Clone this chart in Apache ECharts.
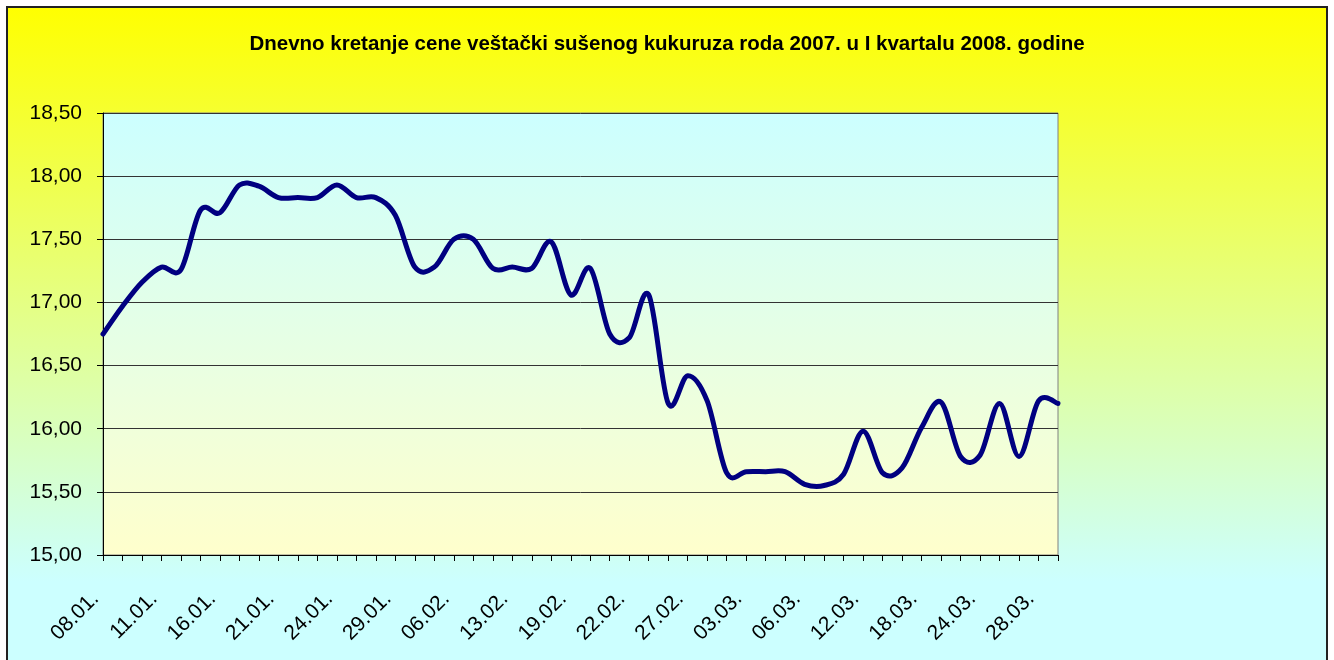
<!DOCTYPE html>
<html>
<head>
<meta charset="utf-8">
<title>Kukuruz 2008</title>
<script src="https://cdn.jsdelivr.net/npm/echarts@6/dist/echarts.min.js"></script>
<style>
    html, body { margin: 0; padding: 0; background: #ffffff; }
    #chart { width: 1334px; height: 660px; }
</style>
</head>
<body>
<div id="chart"></div>
<script>
// datumi trgovanja (prikazuje se svaki treci)
var dates = [
    '08.01.', '09.01.', '10.01.', '11.01.', '14.01.', '15.01.', '16.01.', '17.01.', '18.01.', '21.01.',
    '22.01.', '23.01.', '24.01.', '25.01.', '28.01.', '29.01.', '30.01.', '01.02.', '06.02.', '08.02.',
    '11.02.', '13.02.', '14.02.', '18.02.', '19.02.', '20.02.', '21.02.', '22.02.', '25.02.', '26.02.',
    '27.02.', '28.02.', '29.02.', '03.03.', '04.03.', '05.03.', '06.03.', '10.03.', '11.03.', '12.03.',
    '14.03.', '17.03.', '18.03.', '19.03.', '20.03.', '24.03.', '25.03.', '27.03.', '28.03.', '31.03.'
];

// cena (din/kg)
var prices = [
    16.75, 16.97, 17.16, 17.28, 17.26, 17.73, 17.71, 17.93, 17.92, 17.83,
    17.83, 17.83, 17.93, 17.83, 17.83, 17.69, 17.28, 17.28, 17.50, 17.50,
    17.27, 17.28, 17.27, 17.48, 17.06, 17.27, 16.75, 16.72, 17.06, 16.20,
    16.42, 16.22, 15.65, 15.66, 15.66, 15.66, 15.56, 15.55, 15.64, 15.98,
    15.65, 15.69, 16.01, 16.21, 15.78, 15.79, 16.20, 15.78, 16.22, 16.20
];

var yTicks = [15, 15.5, 16, 16.5, 17, 17.5, 18, 18.5];

var title = 'Dnevno kretanje cene veštački sušenog kukuruza roda 2007. u I kvartalu 2008. godine';

var FONT = 'Arial, "Liberation Sans", sans-serif';

function fmtNum(v) {
    return v.toFixed(2).replace('.', ',');
}

// zaobljena linija kao u Excel-u (Catmull-Rom preko tacaka sa osa)
function renderCurve(params, api) {
    if (params.dataIndex !== 0) return null;
    var pts = [];
    for (var i = 0; i < prices.length; i++) {
        pts.push(api.coord([i, prices[i]]));
    }
    var d = 'M' + pts[0][0] + ' ' + pts[0][1];
    for (var k = 0; k < pts.length - 1; k++) {
        var p0 = pts[k > 0 ? k - 1 : k];
        var p1 = pts[k];
        var p2 = pts[k + 1];
        var p3 = pts[k + 2 < pts.length ? k + 2 : k + 1];
        var c1x = p1[0] + (p2[0] - p0[0]) / 6;
        var c1y = p1[1] + (p2[1] - p0[1]) / 6;
        var c2x = p2[0] - (p3[0] - p1[0]) / 6;
        var c2y = p2[1] - (p3[1] - p1[1]) / 6;
        d += ' C' + c1x + ' ' + c1y + ' ' + c2x + ' ' + c2y + ' ' + p2[0] + ' ' + p2[1];
    }
    return {
        type: 'path',
        shape: { pathData: d },
        style: {
            fill: 'none',
            stroke: '#000080',
            lineWidth: 5,
            lineJoin: 'round',
            lineCap: 'round'
        }
    };
}

var chart = echarts.init(document.getElementById('chart'));

var option = {
    animation: false,
    backgroundColor: '#ffffff',
    graphic: [{
        type: 'rect',
        z: -10,
        silent: true,
        shape: { x: 7, y: 7, width: 1320, height: 700 },
        style: {
            fill: {
                type: 'linear', x: 0, y: 0, x2: 0, y2: 1,
                colorStops: [
                    { offset: 0, color: '#ffff00' },
                    { offset: 0.82, color: '#ccffff' },
                    { offset: 1, color: '#ccffff' }
                ]
            },
            stroke: '#222222',
            lineWidth: 2
        }
    }],
    title: {
        text: title,
        left: 'center',
        top: 29,
        textStyle: {
            fontFamily: FONT,
            fontSize: 20.5,
            fontWeight: 'bold',
            color: '#000000'
        }
    },
    grid: {
        left: 103,
        right: 276,
        top: 113,
        bottom: 105,
        show: true,
        borderColor: '#808080',
        borderWidth: 1,
        backgroundColor: {
            type: 'linear', x: 0, y: 0, x2: 0, y2: 1,
            colorStops: [
                { offset: 0, color: '#ccffff' },
                { offset: 1, color: '#ffffcc' }
            ]
        }
    },
    xAxis: {
        type: 'category',
        data: dates,
        boundaryGap: false,
        axisLine: { lineStyle: { color: '#000000', width: 1 } },
        axisTick: { show: true, interval: 0, length: 6, lineStyle: { color: '#000000' } },
        axisLabel: {
            interval: 2,
            rotate: 45,
            margin: 48,
            verticalAlign: 'bottom',
            fontFamily: FONT,
            fontSize: 21,
            color: '#000000'
        },
        splitLine: { show: false }
    },
    yAxis: {
        type: 'value',
        min: yTicks[0],
        max: yTicks[yTicks.length - 1],
        interval: 0.5,
        axisLine: { show: true, lineStyle: { color: '#000000', width: 1 } },
        axisTick: { show: true, length: 6, lineStyle: { color: '#000000' } },
        axisLabel: {
            margin: 21,
            fontFamily: FONT,
            fontSize: 21,
            color: '#000000',
            formatter: fmtNum
        },
        splitLine: { show: true, lineStyle: { color: '#333333', width: 1 } }
    },
    series: [{
        type: 'custom',
        renderItem: renderCurve,
        data: prices.map(function (v, i) { return [i, v]; }),
        encode: { x: 0, y: 1 }
    }]
};

chart.setOption(option);
</script>
</body>
</html>
